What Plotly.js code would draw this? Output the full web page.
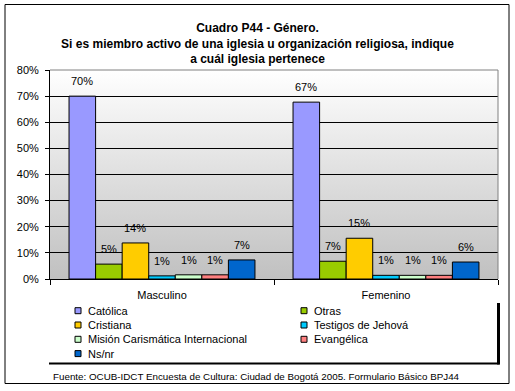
<!DOCTYPE html>
<html>
<head>
<meta charset="utf-8">
<script src="https://cdn.plot.ly/plotly-3.0.1.min.js"></script>
<style>html,body{margin:0;padding:0;background:#fff;}#chart{width:515px;height:391px;}</style>
</head>
<body>
<div id="chart"></div>
<script>
// ---- data ----
const categories = ["Masculino", "Femenino"];
const seriesNames = ["Católica", "Otras", "Cristiana", "Testigos de Jehová", "Misión Carismática Internacional", "Evangélica", "Ns/nr"];
const catolica   = [70.0, 67.7];
const otras      = [5.7, 6.8];
const cristiana  = [13.8, 15.6];
const testigos   = [1.2, 1.4];
const mision     = [1.6, 1.4];
const evangelica = [1.6, 1.4];
const nsnr       = [7.3, 6.5];
const labelsMasculino = ["70%", "5%", "14%", "1%", "1%", "1%", "7%"];
const labelsFemenino  = ["67%", "7%", "15%", "1%", "1%", "1%", "6%"];
const yTickVals = [0, 10, 20, 30, 40, 50, 60, 70, 80];
const yTickText = ["0%", "10%", "20%", "30%", "40%", "50%", "60%", "70%", "80%"];

const seriesValues = [catolica, otras, cristiana, testigos, mision, evangelica, nsnr];
const seriesLabels = [0,1,2,3,4,5,6].map(i => [labelsMasculino[i], labelsFemenino[i]]);
const colors = ["#9999FF", "#99CC00", "#FFCC00", "#00CCFF", "#CCFFCC", "#FF8080", "#0066CC"];

// ---- layout geometry ----
const W = 515, H = 391;
const M = {l: 50, r: 17, t: 70, b: 112};
const plotW = W - M.l - M.r, plotH = H - M.t - M.b;
const bargap = 0.17;
const FONT = "Arial, 'Liberation Sans', sans-serif";
const px = x => (x - M.l) / plotW;
const py = y => (H - M.b - y) / plotH;

const traces = seriesNames.map((name, i) => ({
  type: "bar",
  name: name,
  x: categories,
  y: seriesValues[i],
  marker: {color: colors[i], line: {color: "#000", width: 1}},
  hoverinfo: "x+y+name",
  showlegend: false
}));

// value labels above bars
const barPx = (plotW / categories.length) * (1 - bargap) / seriesNames.length;
const annotations = [];
seriesNames.forEach((name, i) => {
  categories.forEach((c, j) => {
    annotations.push({
      x: c, y: seriesValues[i][j], xref: "x", yref: "y",
      text: seriesLabels[i][j], showarrow: false,
      xshift: (i - (seriesNames.length - 1) / 2) * barPx,
      yshift: 15, yanchor: "middle", xanchor: "center",
      font: {family: FONT, size: 11, color: "#000"}
    });
  });
});

// custom legend (two columns)
const shapes = [];
const legCols = [75, 301];
const legRow0 = 310.7, legRowStep = 14.3;
seriesNames.forEach((name, i) => {
  const col = i % 2, row = Math.floor(i / 2);
  const sx = legCols[col], sy = legRow0 + row * legRowStep;
  shapes.push({type: "rect", xref: "paper", yref: "paper",
    x0: px(sx), x1: px(sx + 6), y0: py(sy + 3), y1: py(sy - 3),
    fillcolor: colors[i], line: {color: "#000", width: 1}});
  annotations.push({xref: "paper", yref: "paper", x: px(sx + 11), y: py(sy),
    xanchor: "left", yanchor: "middle", showarrow: false, text: name,
    font: {family: FONT, size: 11, color: "#000"}});
});
// legend shadow lines
shapes.push({type: "line", xref: "paper", yref: "paper", x0: px(49), x1: px(499.5), y0: py(363.5), y1: py(363.5), line: {color: "#000", width: 2}});
shapes.push({type: "line", xref: "paper", yref: "paper", x0: px(498.5), x1: px(498.5), y0: py(303), y1: py(364.5), line: {color: "#000", width: 3}});
// plot area border (top/right, gray)
shapes.push({type: "line", xref: "paper", yref: "paper", x0: 0, x1: 1, y0: 1, y1: 1, line: {color: "#808080", width: 1}, layer: "above"});
shapes.push({type: "line", xref: "paper", yref: "paper", x0: 1, x1: 1, y0: 0, y1: 1, line: {color: "#808080", width: 1}, layer: "above"});
// outer frame
shapes.push({type: "rect", xref: "paper", yref: "paper", x0: px(5), x1: px(509), y0: py(383.5), y1: py(4.5), line: {color: "#000", width: 1}});

// source note
annotations.push({xref: "paper", yref: "paper", x: px(51), y: py(376.5), xanchor: "left", yanchor: "middle", showarrow: false,
  text: "Fuente: OCUB-IDCT Encuesta de Cultura: Ciudad de Bogotá 2005. Formulario Básico BPJ44",
  font: {family: FONT, size: 9.8, color: "#000"}});

const gradSvg = '<svg xmlns="http://www.w3.org/2000/svg" width="10" height="100" preserveAspectRatio="none"><defs><linearGradient id="g" x1="0" y1="0" x2="0" y2="1"><stop offset="0" stop-color="#ffffff"/><stop offset="1" stop-color="#c0c0c0"/></linearGradient></defs><rect width="10" height="100" fill="url(#g)"/></svg>';

const layout = {
  width: W, height: H,
  margin: M,
  paper_bgcolor: "#fff",
  plot_bgcolor: "rgba(0,0,0,0)",
  font: {family: FONT, size: 11, color: "#000"},
  title: {
    text: "<b>Cuadro P44 - Género.<br>Si es miembro activo de una iglesia u organización religiosa, indique<br>a cuál iglesia pertenece</b>",
    font: {family: FONT, size: 12, color: "#000"},
    x: 0.5, xref: "container", y: 1 - 32 / H, yref: "container", yanchor: "top"
  },
  barmode: "group", bargap: bargap, bargroupgap: 0,
  showlegend: false,
  xaxis: {
    type: "category", showline: true, linecolor: "#000", linewidth: 1,
    ticks: "outside", tickson: "boundaries", ticklen: 5, tickcolor: "#000",
    showgrid: false, zeroline: false, ticklabelstandoff: 6,
    tickfont: {family: FONT, size: 11, color: "#000"}
  },
  yaxis: {
    range: [0, 80], tickvals: yTickVals, ticktext: yTickText,
    showline: true, linecolor: "#000", linewidth: 1,
    ticks: "outside", ticklen: 4, tickcolor: "#000",
    showgrid: true, gridcolor: "#000", gridwidth: 1, zeroline: false,
    ticklabelstandoff: 4,
    tickfont: {family: FONT, size: 11, color: "#000"}
  },
  images: [{
    source: "data:image/svg+xml;charset=utf-8," + encodeURIComponent(gradSvg),
    xref: "paper", yref: "paper", x: 0, y: 1, sizex: 1, sizey: 1,
    xanchor: "left", yanchor: "top", sizing: "stretch", layer: "below"
  }],
  shapes: shapes,
  annotations: annotations
};

Plotly.newPlot("chart", traces, layout, {displayModeBar: false, staticPlot: true});
</script>
</body>
</html>
